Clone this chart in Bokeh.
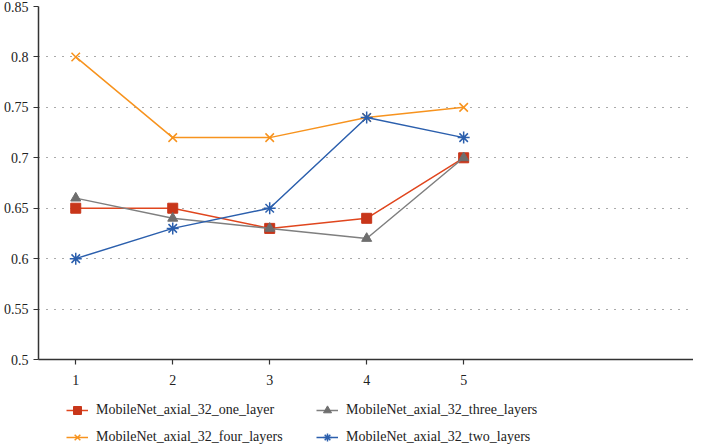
from bokeh.plotting import figure
from bokeh.layouts import column
from bokeh.models import Range1d, Legend, LegendItem, FixedTicker, CustomJSTickFormatter
from bokeh.embed import file_html
from bokeh.resources import INLINE

x = [1, 2, 3, 4, 5]
one_layer = [0.65, 0.65, 0.63, 0.64, 0.70]
three_layers = [0.66, 0.64, 0.63, 0.62, 0.70]
four_layers = [0.80, 0.72, 0.72, 0.74, 0.75]
two_layers = [0.60, 0.63, 0.65, 0.74, 0.72]
y_ticks = [0.5, 0.55, 0.6, 0.65, 0.7, 0.75, 0.8, 0.85]
names = ["MobileNet_axial_32_one_layer", "MobileNet_axial_32_three_layers",
         "MobileNet_axial_32_four_layers", "MobileNet_axial_32_two_layers"]

FONT = "Liberation Serif"
c_one = "#e0461e"
c_three = "#7f7f7f"
c_four = "#f7931e"
c_two = "#2b5fad"

p = figure(frame_width=655, frame_height=353, output_backend="svg", toolbar_location=None,
           x_range=Range1d(0.616, 7.37), y_range=Range1d(0.5, 0.85),
           min_border_left=38, min_border_right=0, min_border_top=6, min_border_bottom=0)
p.outline_line_color = None
p.background_fill_color = "white"

# grid
p.xgrid.grid_line_color = None
p.ygrid.grid_line_color = "#555555"
p.ygrid.grid_line_dash = "1 7"
p.ygrid.grid_line_width = 1.2
p.ygrid.ticker = FixedTicker(ticks=y_ticks[1:])

# axes
for ax in (p.xaxis[0], p.yaxis[0]):
    ax.axis_line_color = "#333333"
    ax.axis_line_width = 1.5
    ax.major_tick_line_color = "#333333"
    ax.major_tick_line_width = 1.2
    ax.major_tick_out = 5
    ax.major_tick_in = 0
    ax.minor_tick_line_color = None
    ax.major_label_text_font = FONT
    ax.major_label_text_font_size = "14px"
    ax.major_label_text_color = "#222222"
p.xaxis[0].ticker = FixedTicker(ticks=x)
p.yaxis[0].ticker = FixedTicker(ticks=y_ticks)
p.yaxis[0].formatter = CustomJSTickFormatter(code="return String(parseFloat(tick.toFixed(2)));")
p.xaxis[0].major_label_standoff = 10

def draw(fig, xs, ys, color, marker, mcolor, msize, filled):
    ln = fig.line(xs, ys, line_color=color, line_width=1.5)
    if filled:
        mk = fig.scatter(xs, ys, marker=marker, size=msize, fill_color=mcolor, line_color=mcolor)
    else:
        mk = fig.scatter(xs, ys, marker=marker, size=msize, line_color=mcolor, line_width=1.5)
    return [ln, mk]

series = [
    (one_layer, c_one, "square", "#c8361a", 10, True),
    (three_layers, c_three, "triangle", "#6e6e6e", 10, True),
    (four_layers, c_four, "x", c_four, 12, False),
    (two_layers, c_two, "asterisk", c_two, 12, False),
]
for ys, col, mk, mcol, ms, fl in series:
    draw(p, x, ys, col, mk, mcol, ms, fl)

# legend panel (separate figure below the chart; its ranges keep the data out of view)
lg = figure(width=p.frame_width + 38, height=60, output_backend="svg", toolbar_location=None,
            x_range=Range1d(100, 101), y_range=Range1d(100, 101),
            x_axis_location=None, y_axis_location=None,
            min_border_left=0, min_border_right=0, min_border_top=0, min_border_bottom=0)
lg.grid.visible = False
lg.outline_line_color = None

leg_r = [draw(lg, x, ys, col, mk, mcol, ms, fl) for ys, col, mk, mcol, ms, fl in series]

def make_legend(items, loc):
    return Legend(items=items, orientation="horizontal", location=loc,
                  label_text_font=FONT, label_text_font_size="14px", label_text_color="#222222",
                  border_line_color=None, background_fill_alpha=0, spacing=12,
                  glyph_width=22, label_standoff=8, label_width=208,
                  padding=2, margin=0)

leg1 = make_legend([LegendItem(label=names[0], renderers=leg_r[0]),
                    LegendItem(label=names[1], renderers=leg_r[1])], (28, 27))
leg2 = make_legend([LegendItem(label=names[2], renderers=leg_r[2]),
                    LegendItem(label=names[3], renderers=leg_r[3])], (28, 0))
lg.add_layout(leg1, "center")
lg.add_layout(leg2, "center")

layout = column(p, lg, spacing=0)
open("out.html", "w").write(file_html(layout, INLINE))
